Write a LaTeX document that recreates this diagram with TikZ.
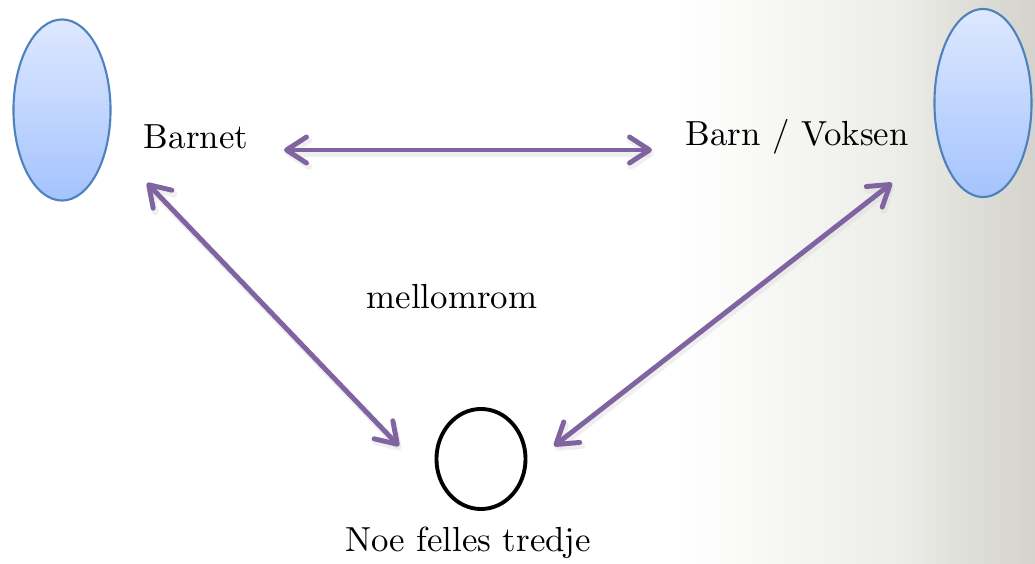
\documentclass[tikz,border=0pt]{standalone}
\usetikzlibrary{arrows.meta,shapes.geometric}
\definecolor{pil}{HTML}{8064A2}
\definecolor{kant}{HTML}{4F81BD}
\definecolor{topp}{HTML}{DEE8FF}
\definecolor{bunn}{HTML}{A4C3FD}
\definecolor{graa}{HTML}{ECECE8}
\definecolor{moerk}{HTML}{D3D2CC}
\tikzset{
  person/.style={ellipse,draw=kant,line width=0.6pt,top color=topp,bottom color=bunn,minimum width=0.97cm,inner sep=0pt},
  tekst/.style={font=\fontsize{9.9}{12}\selectfont,inner sep=1pt},
  pilen/.style={draw=pil,line width=1.4pt,line cap=round,{Straight Barb[length=0.2cm,width=0.26cm,line cap=round,line join=round]}-{Straight Barb[length=0.2cm,width=0.26cm,line cap=round,line join=round]}},
  skygge/.style={draw=black!15,opacity=0.4,line width=1.8pt,line cap=round,{Straight Barb[length=0.2cm,width=0.26cm,line cap=round,line join=round]}-{Straight Barb[length=0.2cm,width=0.26cm,line cap=round,line join=round]}}
}
\begin{document}
\begin{tikzpicture}[x=0.01cm,y=-0.01cm]
\useasboundingbox (0,0) rectangle (1035,564);
\fill[white] (0,0) rectangle (680,564);
\shade[left color=white,right color=graa] (680,0) rectangle (900,564);
\shade[left color=graa,right color=moerk] (899.5,0) rectangle (1035,564);

\node[person,minimum height=1.81cm] (venstre) at (62,110) {};
\node[person,minimum height=1.88cm] (hoyre) at (983,103) {};

\node[tekst] (barnet) at (196,137) {Barnet};
\node[tekst] (voksen) at (797,137) {Barn / Voksen};
\node[tekst] (mellomrom) at (452,297) {mellomrom};
\node[ellipse,draw=black,line width=1.1pt,minimum width=0.89cm,minimum height=1.0cm] (ting) at (481,459) {};
\node[tekst] (tredje) at (468,543) {Noe felles tredje};

\coordinate (b1) at (147,183);
\coordinate (t1) at (399,446);
\coordinate (v1) at (892,183);
\coordinate (t2) at (554,446);
\coordinate (h1) at (284,150);
\coordinate (h2) at (652,150);

\draw[skygge,transform canvas={shift={(0.5pt,-1pt)}}] (h1) -- (h2);
\draw[skygge,transform canvas={shift={(0.5pt,-1pt)}}] (b1) -- (t1);
\draw[skygge,transform canvas={shift={(0.5pt,-1pt)}}] (v1) -- (t2);

\draw[pilen] (h1) -- (h2);
\draw[pilen] (b1) -- (t1);
\draw[pilen] (v1) -- (t2);
\end{tikzpicture}
\end{document}
